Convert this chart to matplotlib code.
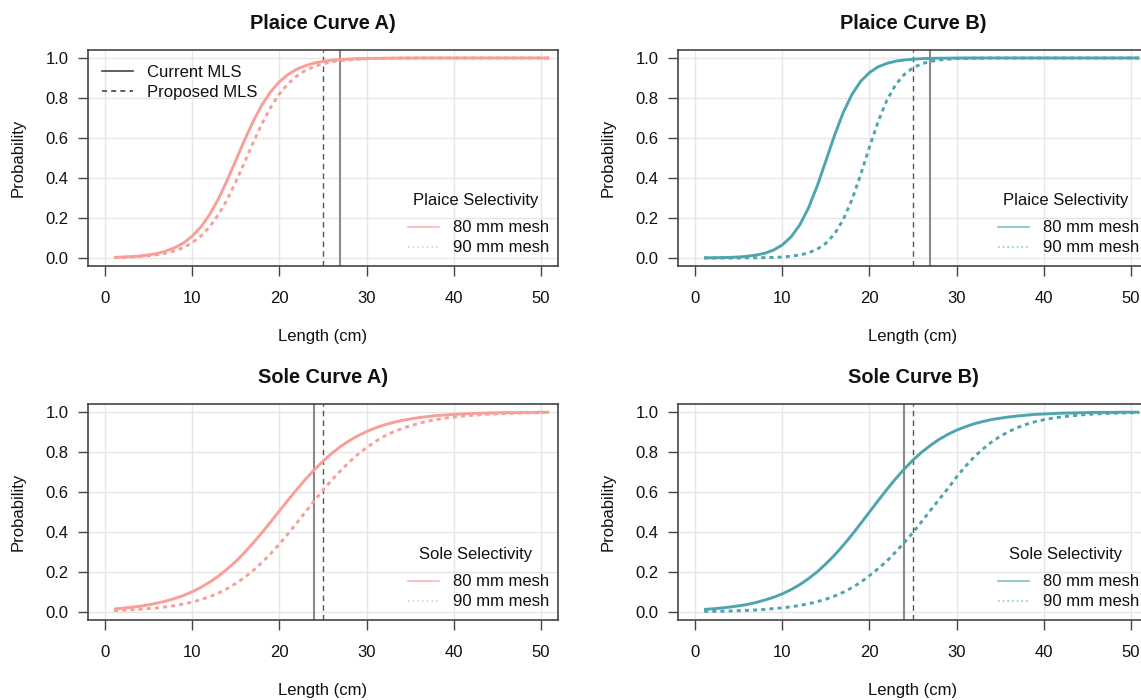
import matplotlib
matplotlib.use("Agg")
import matplotlib.pyplot as plt
from matplotlib.lines import Line2D

plt.rcParams['font.family'] = ['Liberation Sans', 'DejaVu Sans']

lengths = list(range(1, 52))

plaice_a_80 = [0.003, 0.005, 0.007, 0.010, 0.016, 0.023, 0.035, 0.052, 0.076, 0.110,
               0.157, 0.219, 0.297, 0.389, 0.490, 0.591, 0.685, 0.767, 0.832, 0.882,
               0.918, 0.944, 0.962, 0.975, 0.983, 0.989, 0.992, 0.995, 0.997, 0.998,
               0.998, 0.999, 0.999, 1.0, 1.0, 1.0, 1.0, 1.0, 1.0, 1.0,
               1.0, 1.0, 1.0, 1.0, 1.0, 1.0, 1.0, 1.0, 1.0, 1.0, 1.0]
plaice_a_90 = [0.002, 0.003, 0.005, 0.008, 0.011, 0.017, 0.025, 0.036, 0.053, 0.077,
               0.111, 0.157, 0.218, 0.293, 0.382, 0.480, 0.579, 0.673, 0.754, 0.821,
               0.872, 0.910, 0.938, 0.958, 0.971, 0.981, 0.987, 0.991, 0.994, 0.996,
               0.997, 0.998, 0.999, 0.999, 0.999, 1.0, 1.0, 1.0, 1.0, 1.0,
               1.0, 1.0, 1.0, 1.0, 1.0, 1.0, 1.0, 1.0, 1.0, 1.0, 1.0]
plaice_b_80 = [0.001, 0.001, 0.002, 0.003, 0.005, 0.009, 0.015, 0.024, 0.040, 0.066,
               0.106, 0.166, 0.251, 0.361, 0.487, 0.615, 0.729, 0.819, 0.884, 0.927,
               0.956, 0.973, 0.984, 0.990, 0.994, 0.997, 0.998, 0.999, 0.999, 1.0,
               1.0, 1.0, 1.0, 1.0, 1.0, 1.0, 1.0, 1.0, 1.0, 1.0,
               1.0, 1.0, 1.0, 1.0, 1.0, 1.0, 1.0, 1.0, 1.0, 1.0, 1.0]
plaice_b_90 = [0.000, 0.000, 0.000, 0.000, 0.000, 0.001, 0.001, 0.002, 0.003, 0.005,
               0.009, 0.015, 0.026, 0.044, 0.074, 0.121, 0.193, 0.293, 0.418, 0.555,
               0.683, 0.789, 0.866, 0.918, 0.951, 0.971, 0.983, 0.990, 0.994, 0.997,
               0.998, 0.999, 0.999, 1.0, 1.0, 1.0, 1.0, 1.0, 1.0, 1.0,
               1.0, 1.0, 1.0, 1.0, 1.0, 1.0, 1.0, 1.0, 1.0, 1.0, 1.0]
sole_a_80 = [0.015, 0.019, 0.024, 0.029, 0.036, 0.045, 0.055, 0.068, 0.083, 0.102,
             0.124, 0.150, 0.180, 0.215, 0.254, 0.298, 0.346, 0.397, 0.451, 0.506,
             0.560, 0.613, 0.664, 0.711, 0.754, 0.793, 0.827, 0.856, 0.881, 0.902,
             0.920, 0.935, 0.947, 0.957, 0.965, 0.972, 0.977, 0.982, 0.985, 0.988,
             0.990, 0.992, 0.994, 0.995, 0.996, 0.997, 0.997, 0.998, 0.998, 0.999, 0.999]
sole_a_90 = [0.007, 0.009, 0.011, 0.014, 0.017, 0.021, 0.026, 0.032, 0.040, 0.050,
             0.062, 0.077, 0.095, 0.117, 0.143, 0.173, 0.208, 0.248, 0.292, 0.340,
             0.392, 0.446, 0.501, 0.556, 0.609, 0.659, 0.706, 0.749, 0.788, 0.822,
             0.852, 0.878, 0.899, 0.916, 0.931, 0.943, 0.954, 0.962, 0.969, 0.975,
             0.979, 0.983, 0.986, 0.989, 0.991, 0.993, 0.994, 0.995, 0.996, 0.997, 0.998]
sole_b_80 = [0.013, 0.016, 0.020, 0.025, 0.031, 0.038, 0.048, 0.060, 0.074, 0.091,
             0.112, 0.137, 0.167, 0.201, 0.241, 0.285, 0.334, 0.387, 0.443, 0.500,
             0.557, 0.613, 0.666, 0.715, 0.760, 0.799, 0.833, 0.863, 0.888, 0.909,
             0.926, 0.941, 0.952, 0.962, 0.969, 0.975, 0.980, 0.984, 0.988, 0.990,
             0.992, 0.994, 0.995, 0.996, 0.997, 0.998, 0.998, 0.998, 0.999, 0.999, 0.999]
sole_b_90 = [0.003, 0.003, 0.004, 0.005, 0.007, 0.008, 0.010, 0.013, 0.017, 0.021,
             0.026, 0.033, 0.041, 0.052, 0.064, 0.080, 0.099, 0.122, 0.149, 0.182,
             0.217, 0.255, 0.300, 0.347, 0.398, 0.452, 0.508, 0.563, 0.617, 0.675,
             0.727, 0.774, 0.814, 0.849, 0.878, 0.902, 0.922, 0.938, 0.951, 0.961,
             0.969, 0.975, 0.980, 0.984, 0.988, 0.990, 0.992, 0.994, 0.995, 0.996, 0.997]

current_mls = {"Plaice": 27, "Sole": 24}
proposed_mls = 25
x_ticks = [0, 10, 20, 30, 40, 50]
y_ticks = [0.0, 0.2, 0.4, 0.6, 0.8, 1.0]
y_tick_labels = ["0.0", "0.2", "0.4", "0.6", "0.8", "1.0"]
mesh_labels = ["80 mm mesh", "90 mm mesh"]
mls_labels = ["Current MLS", "Proposed MLS"]

panels = [
    ("Plaice Curve A)", "Plaice", plaice_a_80, plaice_a_90, "#f89f98", True),
    ("Plaice Curve B)", "Plaice", plaice_b_80, plaice_b_90, "#4ea5ad", False),
    ("Sole Curve A)", "Sole", sole_a_80, sole_a_90, "#f89f98", False),
    ("Sole Curve B)", "Sole", sole_b_80, sole_b_90, "#4ea5ad", False),
]

W, H = 1141, 700
fig = plt.figure(figsize=(W / 100, H / 100), dpi=100)

ax_w = 470 / W
ax_h = 216 / H
lefts = [88 / W, 678 / W]
bottoms = [(H - 266) / H, (H - 620) / H]

text_col = "#111111"
spine_col = "#444444"
FS = 12

for i, (title, species, y80, y90, col, show_mls_legend) in enumerate(panels):
    r, c = divmod(i, 2)
    ax = fig.add_axes([lefts[c], bottoms[r], ax_w, ax_h])
    ax.set_xlim(-2, 52)
    ax.set_ylim(-0.04, 1.04)
    ax.set_xticks(x_ticks)
    ax.set_xticklabels([str(t) for t in x_ticks])
    ax.set_yticks(y_ticks)
    ax.set_yticklabels(y_tick_labels)
    ax.grid(True, color="#e6e6e6", linewidth=1.0, zorder=0)
    ax.set_axisbelow(True)
    for s in ax.spines.values():
        s.set_color(spine_col)
        s.set_linewidth(1.2)
    ax.tick_params(direction="out", length=7.2, width=1.0, color=spine_col,
                   labelsize=FS, labelcolor=text_col)
    ax.tick_params(axis="x", pad=11)
    ax.tick_params(axis="y", pad=7)

    ax.plot(lengths, y80, color=col, lw=2.1, solid_capstyle="butt", zorder=3)
    ax.plot(lengths, y90, color=col, lw=2.1, dashes=(1.4, 1.4), zorder=3)

    ax.axvline(current_mls[species], color="#8a8a8a", lw=1.5, zorder=2)
    ax.axvline(proposed_mls, color="#555555", lw=1.0, dashes=(4, 3), zorder=2)

    ax.set_title(title, fontsize=14.4, fontweight="bold", color=text_col, pad=15)
    ax.set_xlabel("Length (cm)", fontsize=FS, color=text_col, va="center")
    ax.xaxis.set_label_coords(0.5, -70 / 216)
    ax.set_ylabel("Probability", fontsize=FS, color=text_col, va="center")
    ax.yaxis.set_label_coords(-70 / 470, 0.5)

    mls_leg = None
    if show_mls_legend:
        h_mls = [Line2D([], [], color="#444444", lw=1.2),
                 Line2D([], [], color="#444444", lw=1.2, dashes=(3, 2.5))]
        mls_leg = ax.legend(h_mls, mls_labels, loc="upper left",
                            bbox_to_anchor=(14 / 470, (216 - 15) / 216),
                            frameon=False, fontsize=FS, borderaxespad=0, borderpad=0,
                            handlelength=1.85, handletextpad=0.85, labelspacing=0.3,
                            labelcolor=text_col)

    h_sel = [Line2D([], [], color=col, lw=1.2, alpha=0.7),
             Line2D([], [], color=col, lw=1.2, alpha=0.6, dashes=(1, 1.8))]
    ax.legend(h_sel, mesh_labels, loc="upper left",
              bbox_to_anchor=(320 / 470, (216 - 170.5) / 216),
              frameon=False, fontsize=FS, borderaxespad=0, borderpad=0,
              handlelength=1.85, handletextpad=0.85, labelspacing=0.3,
              labelcolor=text_col)
    if mls_leg is not None:
        ax.add_artist(mls_leg)
    ax.text(387.5 / 470, 66 / 216, f"{species} Selectivity", transform=ax.transAxes,
            ha="center", va="center", fontsize=FS, color=text_col)

fig.savefig("out.png", dpi=100)
